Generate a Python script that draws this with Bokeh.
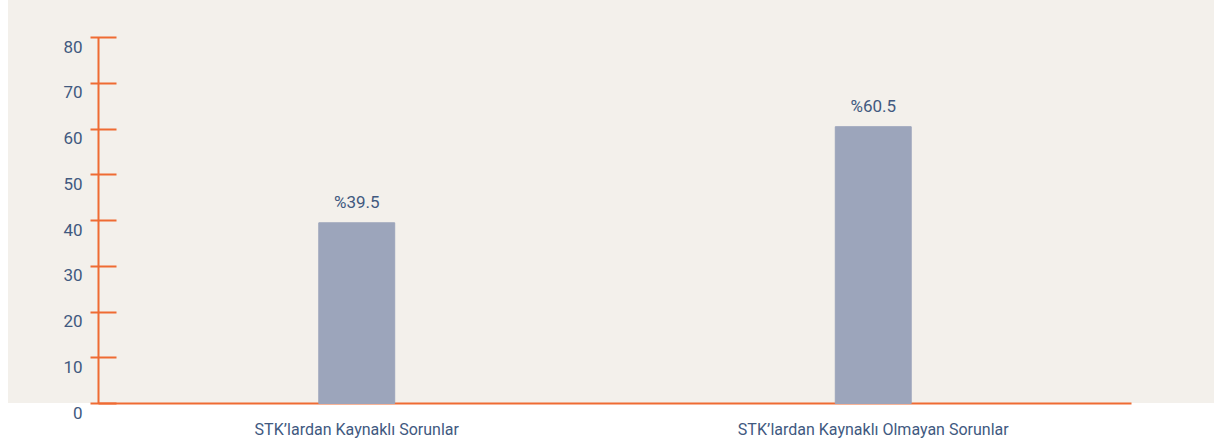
from bokeh.plotting import figure
from bokeh.models import Range1d, FixedTicker, ColumnDataSource, LabelSet
from bokeh.core.properties import value
from bokeh.embed import file_html
from bokeh.resources import INLINE

categories = ["STK’lardan Kaynaklı Sorunlar", "STK’lardan Kaynaklı Olmayan Sorunlar"]
values = [39.5, 60.5]
value_labels = ["%39.5", "%60.5"]
y_ticks = [0, 10, 20, 30, 40, 50, 60, 70, 80]

ORANGE = "#ef6b33"
TEXT = "#41597f"
BAR = "#9ca5bb"
BG = "#f3f0eb"
FONT = "Roboto"

src = ColumnDataSource(dict(cat=categories, val=values, lbl=value_labels))

p = figure(
    x_range=categories, y_range=Range1d(0, 80),
    width=1214, height=441,
    output_backend="svg", toolbar_location=None,
    min_border_left=98, min_border_right=83, min_border_top=37, min_border_bottom=38,
    styles={"background": (f"linear-gradient(to right, #ffffff 8px, transparent 8px), "
                           f"linear-gradient(to bottom, {BG} 0px, {BG} 403px, #ffffff 403px)")},
)
p.border_fill_color = None
p.background_fill_color = BG
p.outline_line_color = None
p.xgrid.visible = False
p.ygrid.visible = False

p.vbar(x="cat", top="val", width=0.147, source=src, color=BAR, level="overlay")

labels = LabelSet(x="cat", y="val", text="lbl", source=src, y_offset=11,
                  text_align="center", text_baseline="bottom",
                  text_font=value(FONT), text_font_size="17px", text_color=TEXT)
p.add_layout(labels)

ya = p.yaxis[0]
ya.ticker = FixedTicker(ticks=y_ticks)
ya.axis_line_color = ORANGE
ya.axis_line_width = 2
ya.major_tick_line_color = ORANGE
ya.major_tick_line_width = 2
ya.major_tick_in = 18
ya.major_tick_out = 8
ya.minor_tick_line_color = None
ya.major_label_standoff = 8
ya.major_label_text_font = FONT
ya.major_label_text_font_size = "17px"
ya.major_label_text_color = TEXT
ya.major_label_text_line_height = 0.9
ya.major_label_overrides = {t: "\n" + str(t) for t in y_ticks}

xa = p.xaxis[0]
xa.axis_line_color = ORANGE
xa.axis_line_width = 2
xa.major_tick_line_color = None
xa.major_tick_in = 0
xa.major_tick_out = 0
xa.major_label_standoff = 16
xa.major_label_text_font = FONT
xa.major_label_text_font_size = "16px"
xa.major_label_text_color = TEXT

open("out.html", "w").write(file_html(p, INLINE))
